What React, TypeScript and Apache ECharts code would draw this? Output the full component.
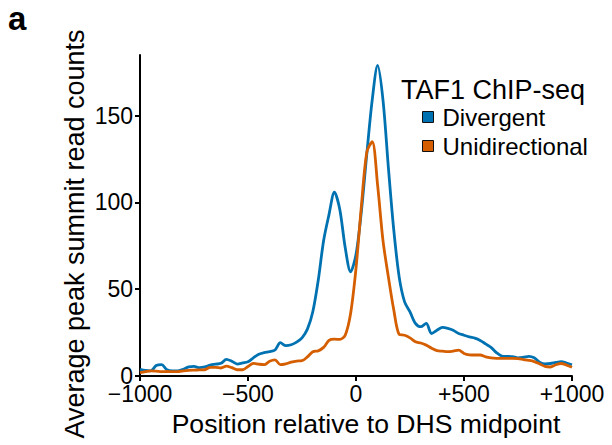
import React, { useEffect, useRef } from "react";
import * as echarts from "echarts";

const positions = [
  -1000, -975, -950, -925, -900, -875, -850, -825, -800, -775,
  -750, -725, -700, -675, -650, -625, -600, -575, -550, -525,
  -500, -475, -450, -425, -400, -375, -350, -325, -300, -275,
  -250, -225, -200, -175, -150, -125, -100, -75, -50, -25,
  0, 25, 50, 75, 100, 125, 150, 175, 200, 225,
  250, 275, 300, 325, 350, 375, 400, 425, 450, 475,
  500, 525, 550, 575, 600, 625, 650, 675, 700, 725,
  750, 775, 800, 825, 850, 875, 900, 925, 950, 975,
  1000,
];

const divergent = [
  3.8, 3.2, 3.0, 6.0, 6.5, 3.6, 3.0, 3.0, 3.8, 5.3,
  5.5, 4.8, 5.2, 6.3, 6.8, 7.3, 9.6, 8.5, 6.9, 7.5,
  8.2, 10.5, 12.5, 13.5, 14.0, 15.0, 19.2, 17.5, 18.0, 19.5,
  22, 27, 37, 55, 78, 93, 106, 96, 74, 60,
  70, 95, 128, 159, 179, 159, 120, 84, 57, 42.7,
  37, 30.3, 28.4, 30.3, 24.5, 26.4, 28, 27.5, 26.4, 24.5,
  23.5, 22.5, 21.8, 20.5, 18.5, 16.5, 13.5, 11.5, 11.3, 11.1,
  10.5, 10.8, 11.3, 10.5, 8, 7, 7.2, 7.8, 8.2, 7.5,
  6.5,
];

const unidirectional = [
  1.9, 2.5, 3.0, 2.8, 2.5, 2.6, 2.5, 2.5, 3.0, 3.3,
  3.4, 3.5, 3.6, 5.0, 5.0, 4.6, 5.7, 4.8, 3.6, 3.6,
  5.5, 7.3, 6.8, 6.5, 8.5, 9.3, 6.5, 7.0, 8.0, 8.6,
  8.8, 11, 14, 14.5, 16.5, 20.5, 21.2, 21.1, 23.5, 36,
  62, 98, 129, 135, 110, 78, 57, 38, 24, 23.5,
  22, 19.7, 19, 17.8, 16, 14.6, 14.3, 14, 14.3, 14.9,
  13, 12.2, 12.1, 12.1, 11, 10.4, 10.2, 10.2, 10.2, 10.2,
  10.0, 9.5, 9, 8.3, 7, 5.5, 5.2, 6.5, 7.2, 6.3,
  5.0,
];

const seriesNames = ["Divergent", "Unidirectional"];
const seriesColors = ["#0072B2", "#D55E00"];
const xTicks = [-1000, -500, 0, 500, 1000];
const yTicks = [0, 50, 100, 150];
const legendTitle = "TAF1 ChIP-seq";
const xTitle = "Position relative to DHS midpoint";
const yTitle = "Average peak summit read counts";
const panelLabel = "a";

const FONT = "'Liberation Sans', Arial, sans-serif";

function fmtX(v: number): string {
  if (v < 0) return "\u2212" + Math.abs(v);
  if (v > 0) return "+" + v;
  return "0";
}

export default function App() {
  const ref = useRef<HTMLDivElement>(null);
  useEffect(() => {
    if (!ref.current) return;
    const chart = echarts.init(ref.current, undefined, { renderer: "svg" });
    const seriesData = [divergent, unidirectional];
    chart.setOption({
      animation: false,
      backgroundColor: "#ffffff",
      grid: { left: 140, right: 40, top: 55, bottom: 69, containLabel: false },
      xAxis: {
        type: "value",
        min: -1000,
        max: 1000,
        interval: 500,
        axisLine: { show: true, onZero: false, lineStyle: { color: "#000", width: 2 } },
        axisTick: { show: true, length: 5, lineStyle: { color: "#000", width: 2 }, customValues: xTicks },
        axisLabel: {
          customValues: xTicks,
          formatter: (v: number) => fmtX(v),
          fontFamily: FONT,
          fontSize: 23,
          color: "#000",
          margin: 6,
        },
        splitLine: { show: false },
      },
      yAxis: {
        type: "value",
        min: 0,
        max: 185,
        interval: 50,
        axisLine: { show: true, onZero: false, lineStyle: { color: "#000", width: 2 } },
        axisTick: { show: true, length: 5, lineStyle: { color: "#000", width: 2 }, customValues: yTicks },
        axisLabel: {
          customValues: yTicks,
          fontFamily: FONT,
          fontSize: 23,
          color: "#000",
          margin: 7,
        },
        splitLine: { show: false },
      },
      legend: {
        orient: "vertical",
        left: 417,
        top: 100,
        itemWidth: 11,
        itemHeight: 11,
        itemGap: 5,
        icon: "rect",
        data: seriesNames.map((n, i) => ({
          name: n,
          itemStyle: { color: seriesColors[i], borderColor: "#111", borderWidth: 1 },
        })),
        textStyle: { fontFamily: FONT, fontSize: 24, color: "#000", lineHeight: 23, padding: [0, 0, 0, 4] },
      },
      graphic: [
        {
          type: "text",
          left: 8,
          top: 2,
          style: { text: panelLabel, font: `bold 33px ${FONT}`, fill: "#000" },
        },
        {
          type: "text",
          x: 493,
          y: 90,
          style: { text: legendTitle, font: `27px ${FONT}`, fill: "#000", textAlign: "center", textVerticalAlign: "middle" },
        },
        {
          type: "text",
          x: 366,
          y: 424,
          style: { text: xTitle, font: `26.6px ${FONT}`, fill: "#000", textAlign: "center", textVerticalAlign: "middle" },
        },
        {
          type: "text",
          x: 75,
          y: 234,
          rotation: Math.PI / 2,
          style: { text: yTitle, font: `27px ${FONT}`, fill: "#000", textAlign: "center", textVerticalAlign: "middle" },
        },
      ],
      series: seriesNames.map((n, i) => ({
        name: n,
        type: "line",
        data: positions.map((p, j) => [p, seriesData[i][j]]),
        showSymbol: false,
        symbol: "none",
        smooth: 0.3,
        lineStyle: { color: seriesColors[i], width: 2.8 },
        itemStyle: { color: seriesColors[i] },
      })),
    });
    return () => chart.dispose();
  }, []);
  return <div ref={ref} style={{ width: 612, height: 445, marginLeft: -8, marginTop: -8 }} />;
}
